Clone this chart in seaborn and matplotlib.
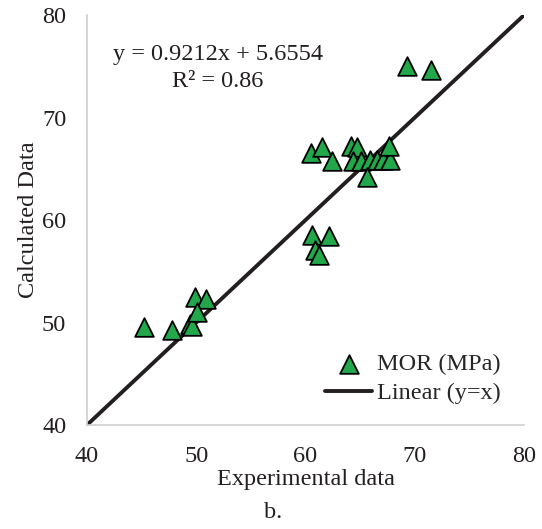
import matplotlib
matplotlib.use("Agg")
import matplotlib.pyplot as plt
import seaborn as sns
import pandas as pd

# MOR (MPa) experimental vs calculated
experimental = [45.2, 47.8, 49.4, 49.6, 49.9, 50.9, 50.1,
                60.5, 61.5, 62.4, 64.2, 64.7, 64.3, 65.1, 65.9, 66.5, 67.1, 67.7, 67.6, 65.6,
                60.6, 62.1, 60.9, 61.2,
                69.3, 71.5]
calculated = [49.6, 49.3, 49.9, 49.7, 52.5, 52.3, 51.0,
              66.5, 67.1, 65.8, 67.2, 67.1, 65.8, 65.8, 65.9, 65.9, 65.9, 65.9, 67.2, 64.2,
              58.5, 58.4, 57.1, 56.6,
              75.0, 74.6]
line_x = [40, 80]
line_y = [40, 80]

df = pd.DataFrame({"exp": experimental, "calc": calculated})
line_df = pd.DataFrame({"x": line_x, "y": line_y})

sns.set_style("white")
plt.rcParams["font.family"] = ["Liberation Serif", "DejaVu Serif"]

fig = plt.figure(figsize=(5.42, 5.29), dpi=100)
ax = fig.add_axes([0.1605, 0.1966, 0.8065, 0.775])

sns.lineplot(data=line_df, x="x", y="y", ax=ax, color="#231f20", linewidth=2.8,
             label="Linear (y=x)", zorder=2)
sns.scatterplot(data=df, x="exp", y="calc", ax=ax, marker="^", s=180,
                color="#22a84a", edgecolor="black", linewidth=1.3,
                label="MOR (MPa)", zorder=3)

ax.set_xlim(40, 80)
ax.set_ylim(40, 80)
ax.set_xticks([40, 50, 60, 70, 80])
ax.set_yticks([40, 50, 60, 70, 80])
ax.tick_params(axis="both", length=0, labelsize=17.5, colors="#231f20", pad=15)
ax.set_xlabel("Experimental data", fontsize=17.5, color="#231f20", labelpad=1.5)
ax.set_ylabel("Calculated Data", fontsize=17.5, color="#231f20", labelpad=2)

for side in ["top", "right"]:
    ax.spines[side].set_visible(False)
for side in ["left", "bottom"]:
    ax.spines[side].set_color("#d0d0d0")
    ax.spines[side].set_linewidth(1.2)

ax.text(52.0, 76.1, "y = 0.9212x + 5.6554", fontsize=17.5, ha="center", va="center", color="#231f20")
ax.text(52.0, 73.5, "R² = 0.86", fontsize=17.5, ha="center", va="center", color="#231f20")

handles, labels = ax.get_legend_handles_labels()
order = [1, 0]
ax.legend([handles[i] for i in order], [labels[i] for i in order],
          loc="lower right", bbox_to_anchor=(0.997, -0.003), frameon=False,
          fontsize=17.5, handlelength=1.95, handletextpad=0.2, labelspacing=0.3)

fig.text(0.504, 0.032, "b.", fontsize=17.5, ha="center", va="center", color="#231f20")

fig.savefig("out.png", dpi=100)
